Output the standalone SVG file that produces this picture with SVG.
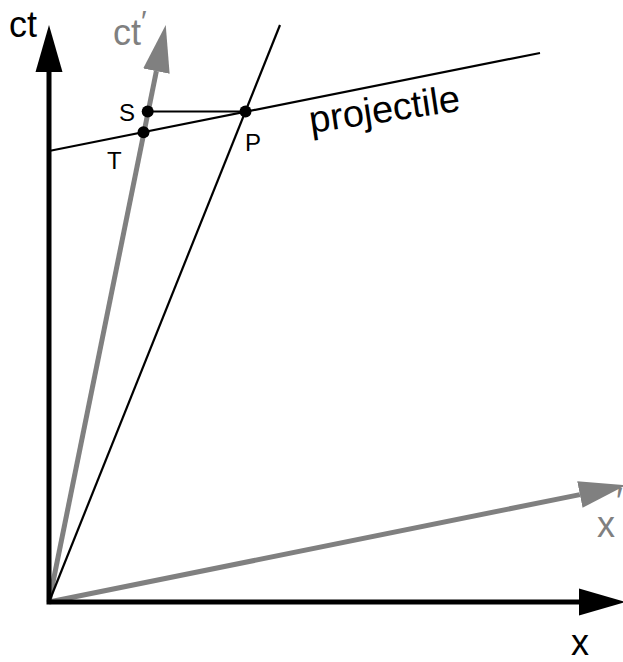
<svg xmlns="http://www.w3.org/2000/svg" width="623" height="662" viewBox="0 0 623 662">
<style>
.lbl{font-family:"Liberation Sans",Arial,sans-serif}
.big{font-size:36px}
.sm{font-size:24px}
.gray{fill:#808080}
.blk{fill:#000}
.axis{fill:none;stroke:#000;stroke-width:5;stroke-linejoin:miter}
.gaxis{fill:none;stroke:#808080;stroke-width:5}
.thin{fill:none;stroke:#000;stroke-width:2.2}
</style>
<defs>
<marker id="ab" markerUnits="userSpaceOnUse" markerWidth="50" markerHeight="30" viewBox="0 -15 50 30" refX="0" refY="0" orient="auto-start-reverse">
<path d="M0,-13.5 L47,0 L0,13.5 Z" fill="#000"/>
</marker>
<marker id="ag" markerUnits="userSpaceOnUse" markerWidth="50" markerHeight="30" viewBox="0 -15 50 30" refX="0" refY="0" orient="auto">
<path d="M0,-13.5 L47,0 L0,13.5 Z" fill="#808080"/>
</marker>
</defs>
<g id="connectors">
<line id="ctprime-axis" class="gaxis" x1="49" y1="602" x2="156.4" y2="71.1" marker-end="url(#ag)"/>
<line id="xprime-axis" class="gaxis" x1="49" y1="602" x2="579.9" y2="494.6" marker-end="url(#ag)"/>
<path id="axes" class="axis" d="M49,72 V602 H579" marker-start="url(#ab)" marker-end="url(#ab)"/>
<line id="light-line" class="thin" x1="49" y1="602" x2="280" y2="25"/>
<line id="projectile-line" class="thin" x1="49" y1="151" x2="540" y2="53"/>
<line id="sp-line" class="thin" x1="147.7" y1="111.5" x2="245.5" y2="111.5"/>
</g>
<g id="node-S"><circle cx="147.7" cy="111.5" r="6" fill="#000"/><text class="lbl sm blk" x="119" y="121">S</text></g>
<g id="node-T"><circle cx="143.5" cy="132.2" r="6" fill="#000"/><text class="lbl sm blk" x="107" y="169">T</text></g>
<g id="node-P"><circle cx="245.5" cy="111.5" r="6" fill="#000"/><text class="lbl sm blk" x="245" y="151">P</text></g>
<g id="label-ct"><text class="lbl big blk" x="9" y="37">ct</text></g>
<g id="label-ctprime"><text class="lbl big gray" x="113" y="45">ct<tspan x="141" y="31" font-size="30">′</tspan></text></g>
<g id="label-xprime"><text class="lbl big gray" x="597" y="537">x<tspan x="616" y="514">′</tspan></text></g>
<g id="label-x"><text class="lbl big blk" x="571" y="655">x</text></g>
<g id="label-projectile"><text class="lbl blk" font-size="38" x="311" y="133" transform="rotate(-8.5 311 133)">projectile</text></g>
</svg>
